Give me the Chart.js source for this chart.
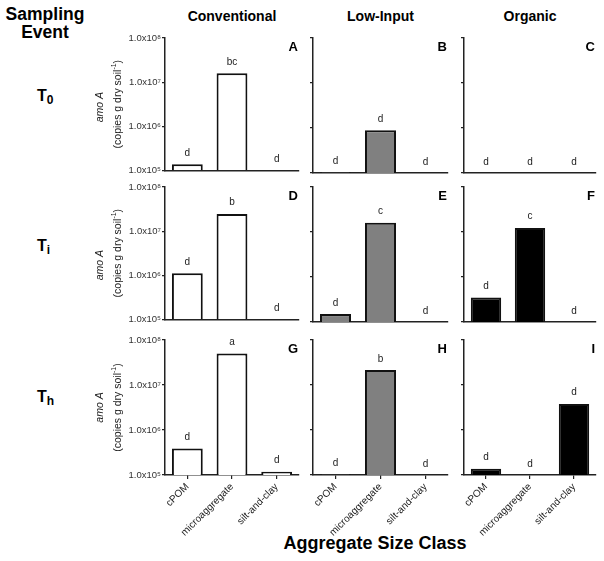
<!DOCTYPE html>
<html><head><meta charset="utf-8">
<script src="https://cdn.jsdelivr.net/npm/chart.js@4"></script>
<style>
body{margin:0;background:#fff;}
#wrap{position:relative;width:604px;height:561px;overflow:hidden;font-family:"Liberation Sans",Arial,sans-serif;color:#000;background:#fff;}
canvas{position:absolute;}
.t{position:absolute;font-weight:bold;white-space:nowrap;text-align:center;}
.ev{position:absolute;font-weight:bold;font-size:16px;white-space:nowrap;}
.ev sub{font-size:12px;vertical-align:-3px;}
</style></head><body><div id="wrap">
<div class="t" style="left:0;width:90px;top:5px;font-size:17.5px;line-height:18px;">Sampling<br>Event</div>
<div class="t" id="h0" style="top:8px;font-size:14px;">Conventional</div>
<div class="t" id="h1" style="top:8px;font-size:14px;">Low-Input</div>
<div class="t" id="h2" style="top:8px;font-size:14px;">Organic</div>
<div class="ev" style="left:37px;top:87px;">T<sub>0</sub></div>
<div class="ev" style="left:37px;top:237px;">T<sub>i</sub></div>
<div class="ev" style="left:37px;top:388px;">T<sub>h</sub></div>
<div class="t" style="left:200px;width:350px;top:533px;font-size:18px;">Aggregate Size Class</div>
</div>
<script>
// ---- data ----
const categories = ['cPOM', 'microaggregate', 'silt-and-clay'];
const treatments = ['Conventional', 'Low-Input', 'Organic'];
const yTicks = [1e5, 1e6, 1e7, 1e8];
const yTickLabels = ['1.0x10\u2075', '1.0x10\u2076', '1.0x10\u2077', '1.0x10\u2078'];
const panelLetters = ['A','B','C','D','E','F','G','H','I'];

const conventionalT0 = [1.38e5, 1.58e7, null];
const lowInputT0     = [1.03e5, 8.9e5, null];
const organicT0      = [null, null, null];
const conventionalTi = [1.1e6, 2.45e7, null];
const lowInputTi     = [1.5e5, 1.6e7, null];
const organicTi      = [3.5e5, 1.23e7, null];
const conventionalTh = [3.9e5, 5.0e7, 1.18e5];
const lowInputTh     = [1.03e5, 2.15e7, null];
const organicTh      = [1.38e5, null, 3.8e6];

const groupsConventionalT0 = ['d','bc','d'];
const groupsLowInputT0     = ['d','d','d'];
const groupsOrganicT0      = ['d','d','d'];
const groupsConventionalTi = ['d','b','d'];
const groupsLowInputTi     = ['d','c','d'];
const groupsOrganicTi      = ['d','c','d'];
const groupsConventionalTh = ['d','a','d'];
const groupsLowInputTh     = ['d','b','d'];
const groupsOrganicTh      = ['d','d','d'];

const values = [
  [conventionalT0, lowInputT0, organicT0],
  [conventionalTi, lowInputTi, organicTi],
  [conventionalTh, lowInputTh, organicTh]
];
const groups = [
  [groupsConventionalT0, groupsLowInputT0, groupsOrganicT0],
  [groupsConventionalTi, groupsLowInputTi, groupsOrganicTi],
  [groupsConventionalTh, groupsLowInputTh, groupsOrganicTh]
];

// ---- layout / style ----
const FAMILY = '"Liberation Sans", Arial, sans-serif';
Chart.defaults.font.family = FAMILY;
const fills = ['#ffffff', '#808080', '#000000'];
const axisX = [165, 313, 464];
const endX = [299, 448, 596];
const plotTop = [38, 187, 340];
const plotH = 135;
const LEFTW = [75, 8, 8];
const RIGHTW = 6;
const TOPPAD = 12;
const amoOffset = [3, 12, 0];

for (let c = 0; c < 3; c++) {
  const h = document.getElementById('h' + c);
  h.style.left = (axisX[c] - 40) + 'px';
  h.style.width = (endX[c] - axisX[c] + 80) + 'px';
}

const annot = {
  id: 'annot',
  afterDatasetsDraw(chart, args, opts) {
    const ctx = chart.ctx;
    const xs = chart.scales.x, ys = chart.scales.y;
    const data = chart.data.datasets[0].data;
    ctx.save();
    ctx.fillStyle = '#222';
    ctx.font = '10px ' + FAMILY;
    ctx.textAlign = 'center';
    ctx.textBaseline = 'alphabetic';
    for (let i = 0; i < data.length; i++) {
      const x = xs.getPixelForValue(i);
      const y = data[i] != null ? ys.getPixelForValue(data[i]) : ys.bottom;
      ctx.fillText(opts.groups[i], x, y - 8.5);
    }
    // panel letter
    ctx.fillStyle = '#000';
    ctx.font = 'bold 13px ' + FAMILY;
    ctx.textAlign = 'right';
    ctx.fillText(opts.letter, chart.chartArea.right - 1, chart.chartArea.top + 13);
    // y title
    if (opts.yTitle) {
      const cy = (chart.chartArea.top + chart.chartArea.bottom) / 2;
      const x1 = 100 - opts.left, x2 = 118 - opts.left;
      ctx.fillStyle = '#222';
      ctx.save();
      ctx.translate(x1, cy + opts.amoOffset);
      ctx.rotate(-Math.PI / 2);
      ctx.textAlign = 'center';
      ctx.textBaseline = 'middle';
      ctx.font = 'italic 10.5px ' + FAMILY;
      ctx.fillText('amo A', 0, 0);
      ctx.restore();
      ctx.save();
      ctx.translate(x2, cy);
      ctx.rotate(-Math.PI / 2);
      ctx.textBaseline = 'middle';
      ctx.textAlign = 'left';
      const f1 = '10.5px ' + FAMILY, f2 = '7px ' + FAMILY;
      const p1 = '(copies g dry soil', p2 = '-1', p3 = ')';
      ctx.font = f1; const w1 = ctx.measureText(p1).width, w3 = ctx.measureText(p3).width;
      ctx.font = f2; const w2 = ctx.measureText(p2).width;
      let sx = -(w1 + w2 + w3) / 2;
      ctx.font = f1; ctx.fillText(p1, sx, 0); sx += w1;
      ctx.font = f2; ctx.fillText(p2, sx, -4); sx += w2;
      ctx.font = f1; ctx.fillText(p3, sx, 0);
      ctx.restore();
    }
    ctx.restore();
  }
};

const wrap = document.getElementById('wrap');
for (let r = 0; r < 3; r++) {
  for (let c = 0; c < 3; c++) {
    const left = axisX[c] - LEFTW[c];
    const plotW = endX[c] - axisX[c];
    const W = LEFTW[c] + plotW + RIGHTW;
    const bottomH = r === 2 ? 92 : 4;
    const H = TOPPAD + plotH + bottomH;
    const cv = document.createElement('canvas');
    cv.width = W; cv.height = H;
    cv.style.left = left + 'px';
    cv.style.top = (plotTop[r] - TOPPAD) + 'px';
    cv.style.width = W + 'px'; cv.style.height = H + 'px';
    wrap.appendChild(cv);
    new Chart(cv, {
      type: 'bar',
      data: {
        labels: categories,
        datasets: [{
          data: values[r][c],
          backgroundColor: fills[c],
          borderColor: '#111',
          borderWidth: 2,
          borderSkipped: 'bottom',
          barPercentage: 0.69,
          categoryPercentage: 1
        }]
      },
      options: {
        responsive: false,
        animation: false,
        devicePixelRatio: 1,
        layout: { padding: { left: 0, right: RIGHTW, top: TOPPAD, bottom: 0 } },
        plugins: {
          legend: { display: false },
          tooltip: { enabled: false },
          annot: { groups: groups[r][c], letter: panelLetters[r * 3 + c], yTitle: c === 0, left: left, amoOffset: amoOffset[r] }
        },
        scales: {
          x: {
            grid: { display: true, drawOnChartArea: false, drawTicks: r === 2, tickLength: 4, offset: false, color: '#222', lineWidth: 1.2 },
            border: { display: true, color: '#222', width: 1.5 },
            ticks: { display: r === 2, maxRotation: 45, minRotation: 45, autoSkip: false, font: { size: 10 }, color: '#222', padding: 2 },
            afterFit(s) { s.height = bottomH; }
          },
          y: {
            type: 'logarithmic',
            min: 1e5, max: 1e8,
            grid: { display: true, drawOnChartArea: false, drawTicks: true, tickLength: 3, color: '#222', lineWidth: 1.2 },
            border: { display: true, color: '#222', width: 1.5 },
            ticks: {
              display: c === 0, autoSkip: false, font: { size: 9.5 }, color: '#333', padding: 1,
              callback: (v) => { const k = yTicks.indexOf(v); return k >= 0 ? yTickLabels[k] : ''; }
            },
            afterBuildTicks(s) { s.ticks = yTicks.map(v => ({ value: v })); },
            afterFit(s) { s.width = LEFTW[c]; }
          }
        }
      },
      plugins: [annot]
    });
  }
}
</script>
</body></html>
